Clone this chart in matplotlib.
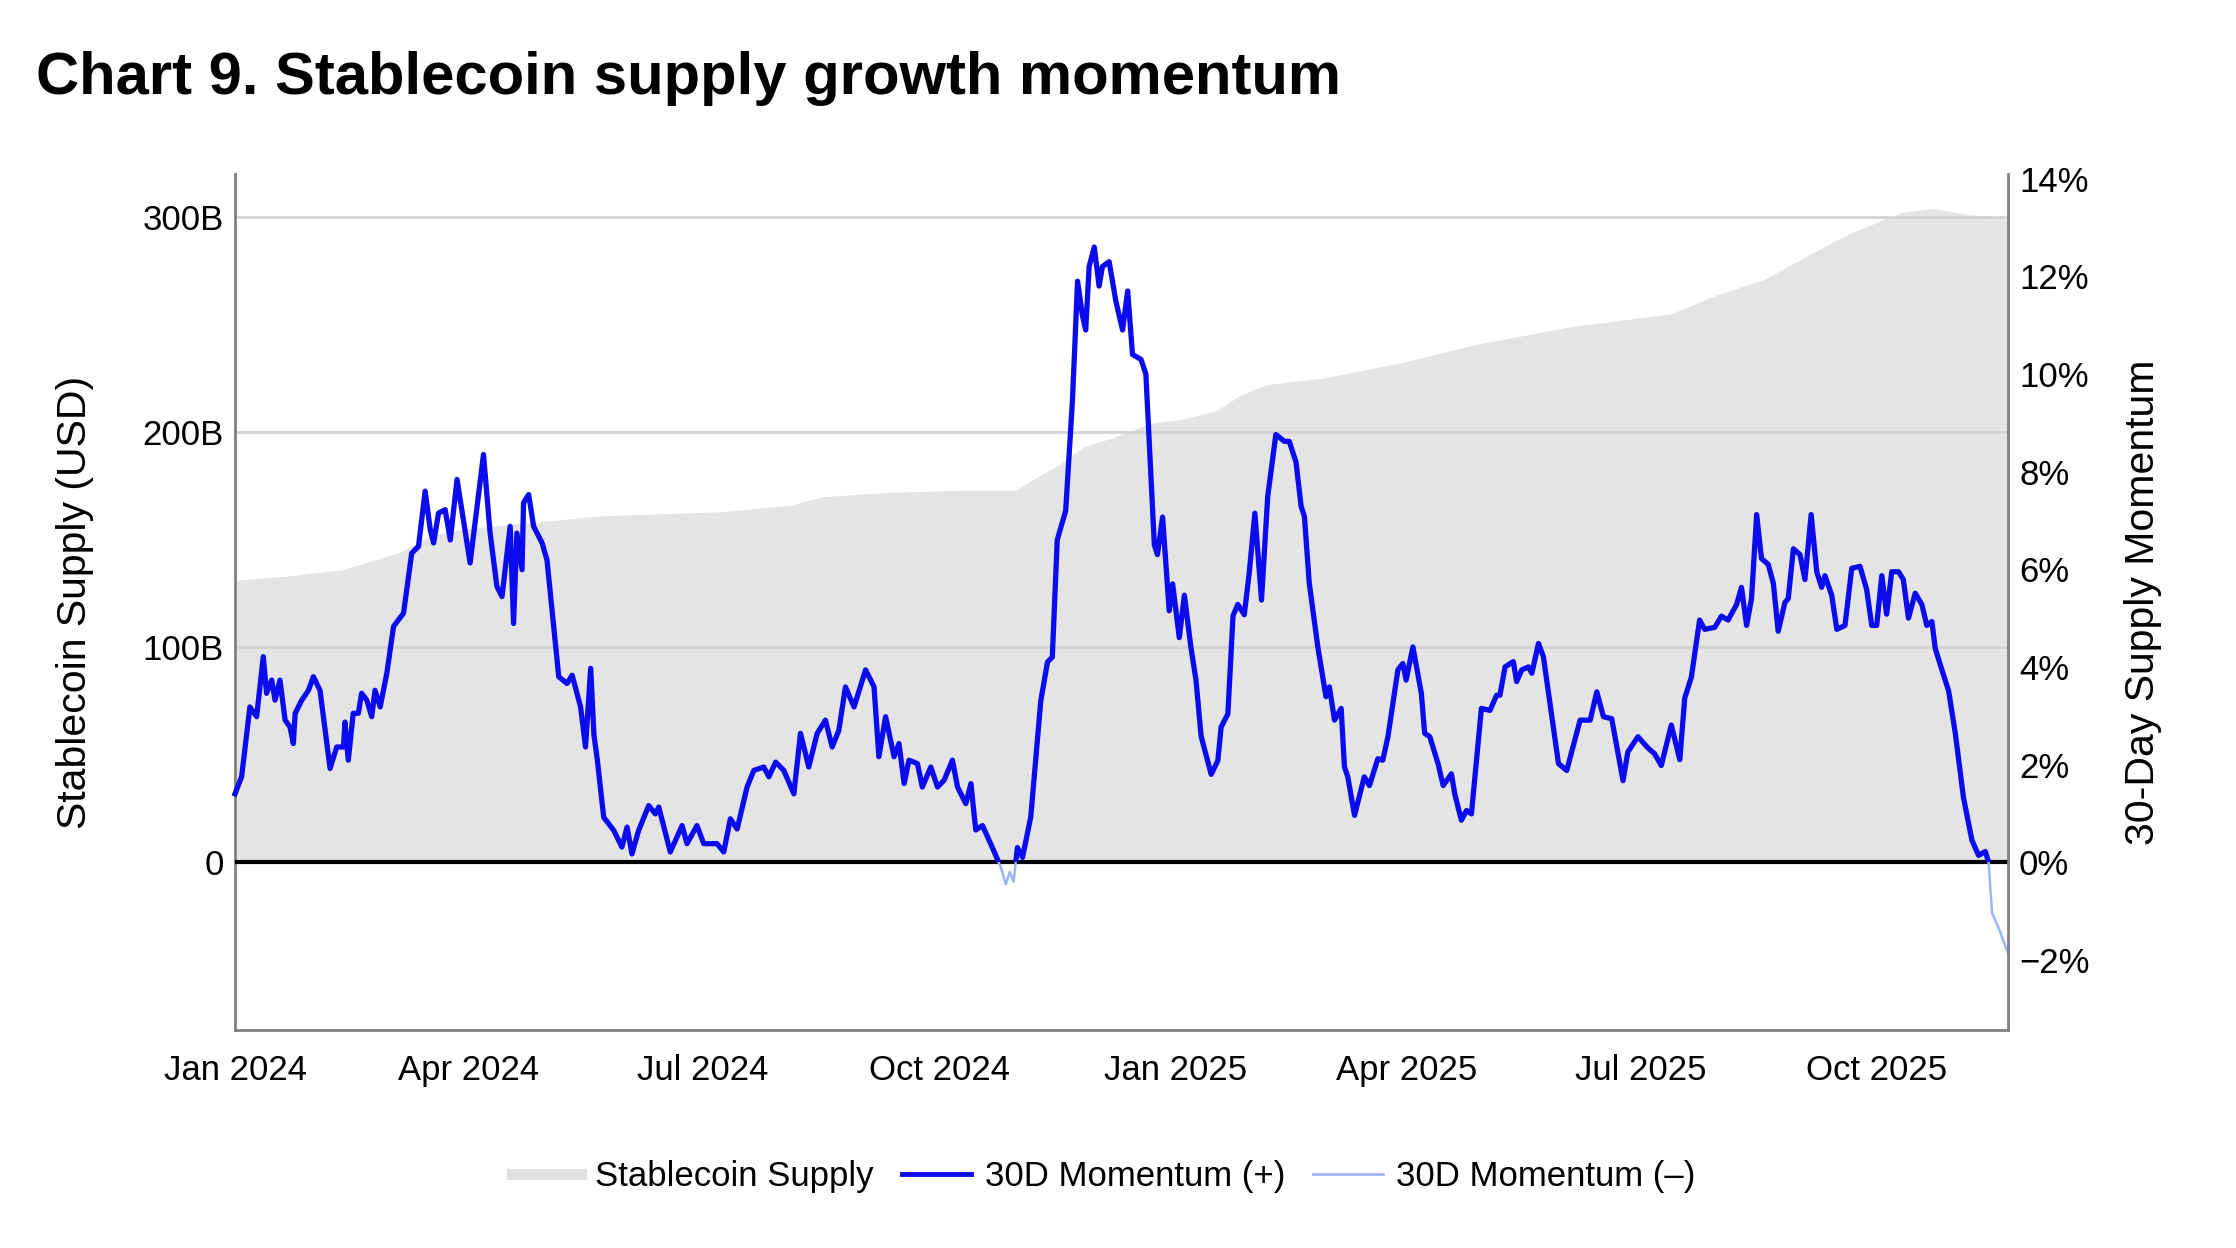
import numpy as np
import matplotlib
matplotlib.use("Agg")
import matplotlib.pyplot as plt
import matplotlib.dates as mdates
from matplotlib.lines import Line2D
from matplotlib.patches import Rectangle

plt.rcParams["font.family"] = ["Liberation Sans", "DejaVu Sans"]

START = np.datetime64("2024-01-01")
END_DAY = 690

# stablecoin supply, billions USD (day offset from 2024-01-01)
supply_day = [0, 20, 42, 64, 76, 90, 115, 142, 190, 216, 229, 255, 286, 304, 312, 321,
              330, 343, 356, 369, 382, 391, 401, 423, 453, 484, 520, 559, 575, 595,
              626, 648, 661, 675, 690]
supply_bn = [131, 133, 136, 144, 152, 155, 158, 161, 163, 166, 170, 172, 173, 173, 179, 185,
             193, 198, 204, 206, 210, 217, 222, 225, 232, 241, 249, 255, 263, 271,
             291, 302, 304, 301, 300]

# 30-day supply momentum, percent
mom_day = [0, 2.6, 5.8, 8.4, 11, 12.3, 14.3, 15.6, 17.5, 19.5, 21.4, 22.7, 23.4, 26, 28.6,
           30.5, 33.1, 37, 39.6, 42.2, 42.8, 44.1, 46, 48, 49.3, 51.3, 53.2, 54.5, 56.5,
           59.1, 61.7, 65.6, 68.8, 71.4, 74, 76, 77.3, 79.2, 81.8, 83.8, 86.4, 91.5, 96.7,
           99.3, 101.9, 103.9, 107.1, 108.4, 109.7, 111.7, 112.3, 114.3, 116.2, 119.5,
           121.4, 126, 129.2, 131.2, 134.5, 136.4, 138.4, 139.7, 141, 143.5, 147.4, 150.6,
           152.6, 154.5, 157.1, 161, 163.6, 164.9, 169.4, 174, 175.9, 179.8, 182.4, 187.6,
           190.2, 192.8, 195.4, 199.3, 201.9, 205.8, 207.8, 210.4, 213.6, 217.5, 220.1,
           223.3, 226.6, 229.8, 232.4, 235, 237.6, 240.9, 245.4, 248.7, 250.6, 253.2,
           256.5, 258.4, 260.4, 262.3, 265.6, 267.5, 270.8, 273.4, 276, 279.2, 281.2,
           284.4, 286.4, 288.3, 290.9, 294.1, 296, 298, 300, 301.5, 303, 304.5, 306.5,
           309.7, 313.6, 316.2, 318.1, 320, 323.3, 325.9, 327.9, 329.8, 331.1, 332.4,
           334.4, 336.3, 337.6, 340.2, 342.8, 345.4, 347.4, 349.3, 352.6, 354.5, 357.8,
           359, 361, 363.6, 364.9, 367.5, 369.5, 372, 374, 376, 379.9, 382.5, 383.8,
           386.4, 388.4, 390.3, 392.8, 394.7, 396.9, 399.5, 401.9, 405.1, 408.4, 410.3,
           412.9, 414.9, 416.2, 418.1, 421.4, 424.6, 425.9, 427.9, 430.5, 431.8, 433.1,
           435.7, 439.5, 441.5, 444.8, 446.7, 448.7, 452.6, 454.5, 455.8, 458.4, 461.7,
           463, 465, 468.2, 470.2, 473.4, 474.7, 477.3, 479.3, 481.2, 485.1, 488.4, 491,
           492.3, 494.3, 497.5, 498.8, 500.8, 503.4, 504.7, 507.3, 509.2, 515.1, 518.3,
           523.5, 527.4, 530, 532.6, 535.8, 540.2, 542.1, 546, 549.9, 552.5, 555.1, 559,
           562.3, 564.2, 566.8, 570, 572, 575.9, 578.5, 581.1, 584.4, 586.3, 588.3, 590.2,
           592.2, 594.1, 596.7, 598.7, 600.6, 603.2, 604.5, 606.5, 609.1, 611, 613.4,
           615.6, 617.5, 618.8, 621.4, 623.4, 626.6, 629.2, 632.4, 635, 637, 638.9, 640.9,
           642.8, 644.8, 647.4, 649.3, 651.3, 653.9, 656.5, 658.4, 660.4, 661.7, 663.6,
           666.9, 669.5, 672.7, 676, 678.6, 681.2, 682.5, 683.8, 686.4, 690.3]
mom_pct = [1.40, 1.75, 3.18, 2.98, 4.21, 3.46, 3.73, 3.32, 3.73, 2.91, 2.77, 2.43, 3.05, 3.32,
           3.52, 3.80, 3.52, 1.92, 2.36, 2.36, 2.87, 2.09, 3.05, 3.05, 3.46, 3.32, 2.98,
           3.52, 3.18, 3.87, 4.83, 5.10, 6.33, 6.47, 7.60, 6.81, 6.54, 7.15, 7.22, 6.60,
           7.84, 6.13, 8.35, 6.74, 5.65, 5.44, 6.88, 4.89, 6.74, 5.99, 7.36, 7.53, 6.88,
           6.54, 6.19, 3.80, 3.66, 3.83, 3.18, 2.36, 3.97, 2.60, 2.10, 0.92, 0.65, 0.31,
           0.72, 0.17, 0.65, 1.16, 0.99, 1.13, 0.21, 0.75, 0.38, 0.75, 0.38, 0.38, 0.21,
           0.89, 0.68, 1.54, 1.88, 1.95, 1.75, 2.05, 1.88, 1.40, 2.64, 1.95, 2.64, 2.91,
           2.36, 2.70, 3.59, 3.18, 3.94, 3.59, 2.16, 2.98, 2.16, 2.43, 1.61, 2.09, 2.02,
           1.54, 1.95, 1.54, 1.68, 2.09, 1.54, 1.20, 1.61, 0.66, 0.75, 0.38, 0.15, -0.10,
           -0.45, -0.20, -0.40, 0.30, 0.10, 0.93, 3.30, 4.10, 4.20, 6.60, 7.20, 9.45, 11.90,
           11.20, 10.90, 12.20, 12.60, 11.80, 12.20, 12.30, 11.50, 10.90, 11.70, 10.40,
           10.30, 10.00, 6.50, 6.30, 7.07, 5.15, 5.70, 4.60, 5.47, 4.41, 3.73, 2.58, 1.80,
           2.08, 2.77, 3.04, 5.05, 5.28, 5.07, 5.92, 7.15, 5.37, 7.49, 8.76, 8.62, 8.62,
           8.20, 7.29, 7.08, 5.72, 4.41, 3.39, 3.59, 2.91, 3.15, 1.95, 1.75, 0.96, 1.75,
           1.57, 2.12, 2.09, 2.57, 3.94, 4.07, 3.73, 4.41, 3.46, 2.64, 2.57, 2.02, 1.57,
           1.81, 1.40, 0.86, 1.06, 0.99, 3.15, 3.11, 3.42, 3.42, 4.00, 4.11, 3.70, 3.94,
           4.00, 3.87, 4.48, 4.21, 2.02, 1.88, 2.91, 2.91, 3.49, 2.98, 2.94, 1.67, 2.26,
           2.57, 2.34, 2.22, 1.98, 2.81, 2.10, 3.36, 3.79, 4.96, 4.77, 4.81, 5.04, 4.96,
           5.28, 5.63, 4.85, 5.40, 7.12, 6.22, 6.10, 5.71, 4.73, 5.32, 5.40, 6.42, 6.30,
           5.79, 7.12, 5.95, 5.63, 5.87, 5.47, 4.77, 4.85, 6.02, 6.06, 5.59, 4.85, 4.85,
           5.87, 5.08, 5.95, 5.95, 5.79, 5.00, 5.51, 5.28, 4.85, 4.93, 4.38, 4.06, 3.51,
           2.65, 1.32, 0.45, 0.14, 0.22, 0.00, -1.04, -1.35, -1.90]

left_ticks = [0, 100, 200, 300]
left_labels = ["0", "100B", "200B", "300B"]
right_ticks = [-2, 0, 2, 4, 6, 8, 10, 12, 14]
right_labels = [f"{t}%".replace("-", "\u2212") for t in right_ticks]

BLUE = "#0B0BEE"
LIGHT_BLUE = "#9DB5F5"
FILL = "#E4E4E4"
SPINE = "#808080"

supply_dates = START + np.array(supply_day).astype("timedelta64[D]")
mom_dates = START + np.round(np.array(mom_day) * 24).astype("timedelta64[h]")

fig = plt.figure(figsize=(22.36, 12.48), dpi=100)
ax = fig.add_axes([0.1051, 0.1747, 0.7929, 0.6859])
ax2 = ax.twinx()

ax.fill_between(supply_dates, 0, supply_bn, color=FILL, lw=0, zorder=1)
ax.set_ylim(-78, 320)
ax.set_yticks(left_ticks)
ax.set_yticklabels(left_labels)
ax.yaxis.grid(True, color="#D3D3D3", lw=2)
ax.set_xlim(START, START + np.timedelta64(END_DAY, "D"))
ax.xaxis.set_major_locator(mdates.MonthLocator(bymonth=[1, 4, 7, 10]))
ax.xaxis.set_major_formatter(mdates.DateFormatter("%b %Y"))
ax.tick_params(axis="x", length=0, labelsize=25, pad=17)
ax.tick_params(axis="y", length=0, labelsize=25, pad=8)
ax.set_ylabel("Stablecoin Supply (USD)", fontsize=29.5, va="center")
ax.yaxis.set_label_coords(-0.0905, 0.5)

ax2.set_ylim(-78 / 22.7, 320 / 22.7)
ax2.set_yticks(right_ticks)
ax2.set_yticklabels(right_labels)
ax2.tick_params(axis="y", length=0, labelsize=25, pad=8)
ax2.set_ylabel("30-Day Supply Momentum", fontsize=29.5, va="center")
ax2.yaxis.set_label_coords(1.0762, 0.5)

ax2.axhline(0, color="black", lw=3, zorder=1)
ax2.plot(mom_dates, mom_pct, color=LIGHT_BLUE, lw=1.8, zorder=2)
pos_line, = ax2.plot(mom_dates, mom_pct, color=BLUE, lw=3.8, zorder=3)
clip = Rectangle((mdates.date2num(START) - 30, 0), END_DAY + 60, 50,
                 transform=ax2.transData)
pos_line.set_clip_path(clip)

for a in (ax, ax2):
    a.spines["top"].set_visible(False)
ax.spines["right"].set_visible(False)
ax2.spines["left"].set_visible(False)
ax2.spines["bottom"].set_visible(False)
for name in ("left", "bottom"):
    ax.spines[name].set_color(SPINE)
    ax.spines[name].set_linewidth(2)
ax2.spines["right"].set_color(SPINE)
ax2.spines["right"].set_linewidth(2)

fig.text(0.0161, 0.9247, "Chart 9. Stablecoin supply growth momentum",
         fontsize=43, fontweight="bold", ha="left", va="baseline")

handles = [
    Line2D([], [], color="#E0E0E0", lw=8),
    Line2D([], [], color=BLUE, lw=3.5),
    Line2D([], [], color=LIGHT_BLUE, lw=2),
]
labels = ["Stablecoin Supply", "30D Momentum (+)", "30D Momentum (\u2013)"]
fig.legend(handles, labels, loc="center", bbox_to_anchor=(0.4937, 0.0569), ncol=3,
           frameon=False, fontsize=25, handlelength=2.0, handletextpad=0.4,
           columnspacing=0.8)

fig.savefig("out.png", dpi=100)
